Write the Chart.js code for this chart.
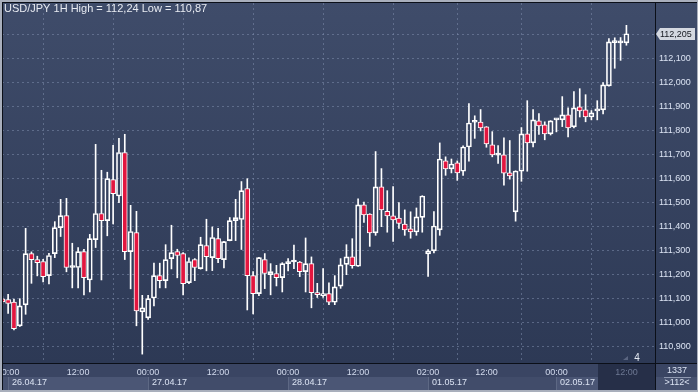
<!DOCTYPE html>
<html>
<head>
<meta charset="utf-8">
<script src="https://cdn.jsdelivr.net/npm/chart.js@4.4.1/dist/chart.umd.min.js"></script>
<style>
  html, body { margin: 0; padding: 0; background: #2d3956; }
  #wrap { width: 698px; height: 392px; }
</style>
</head>
<body>
<div id="wrap"><canvas id="chart" width="698" height="392"></canvas></div>
<script>
// USD/JPY 1H candles, 25.04 23:00 .. 02.05 12:00 (index = bar number)
const openP = [
  111.100, 111.097, 111.087, 110.988, 111.075, 111.289, 111.264, 111.256, 111.197, 111.289,
  111.397, 111.447, 111.231, 111.231, 111.297, 111.179, 111.347, 111.456, 111.426, 111.597,
  111.529, 111.710, 111.297, 111.376, 111.046, 111.021, 111.104, 111.197, 111.176, 111.268,
  111.297, 111.289, 111.168, 111.264, 111.226, 111.322, 111.272, 111.351, 111.264, 111.343,
  111.426, 111.431, 111.560, 111.197, 111.122, 111.264, 111.201, 111.206, 111.189, 111.247,
  111.254, 111.254, 111.214, 111.247, 111.126, 111.114, 111.122, 111.086, 111.153, 111.244,
  111.275, 111.236, 111.492, 111.454, 111.375, 111.567, 111.465, 111.446, 111.437, 111.412,
  111.392, 111.379, 111.440, 111.287, 111.300, 111.388, 111.675, 111.642, 111.667, 111.632,
  111.733, 111.836, 111.837, 111.817, 111.742, 111.699, 111.700, 111.625, 111.463, 111.632,
  111.788, 111.750, 111.842, 111.825, 111.788, 111.846, 111.846, 111.867, 111.817, 111.900,
  111.888, 111.858, 111.883, 111.888, 111.988, 112.168, 112.167, 112.167
];
const highP = [
  111.110, 111.119, 111.099, 111.101, 111.394, 111.296, 111.278, 111.265, 111.290, 111.422,
  111.515, 111.519, 111.332, 111.314, 111.307, 111.369, 111.744, 111.636, 111.628, 111.740,
  111.769, 111.786, 111.490, 111.465, 111.115, 111.115, 111.249, 111.249, 111.326, 111.407,
  111.307, 111.293, 111.271, 111.268, 111.357, 111.432, 111.400, 111.394, 111.340, 111.439,
  111.515, 111.589, 111.601, 111.214, 111.273, 111.289, 111.247, 111.240, 111.251, 111.268,
  111.324, 111.256, 111.354, 111.275, 111.165, 111.226, 111.167, 111.197, 111.268, 111.326,
  111.351, 111.517, 111.504, 111.455, 111.714, 111.643, 111.551, 111.568, 111.501, 111.471,
  111.463, 111.479, 111.530, 111.306, 111.464, 111.750, 111.692, 111.683, 111.675, 111.738,
  111.914, 111.863, 111.889, 111.818, 111.797, 111.739, 111.771, 111.760, 111.634, 111.814,
  111.926, 111.889, 111.872, 111.838, 111.843, 111.851, 111.943, 111.896, 111.964, 111.976,
  111.951, 111.885, 111.926, 112.001, 112.185, 112.188, 112.189, 112.240
];
const lowP = [
  111.080, 111.040, 110.971, 110.985, 111.036, 111.165, 111.196, 111.171, 111.162, 111.272,
  111.360, 111.213, 111.146, 111.146, 111.117, 111.129, 111.314, 111.179, 111.363, 111.413,
  111.501, 111.264, 111.142, 110.988, 110.870, 111.015, 111.071, 111.146, 111.146, 111.225,
  111.188, 111.117, 111.164, 111.176, 111.224, 111.217, 111.218, 111.251, 111.229, 111.342,
  111.343, 111.306, 111.054, 111.038, 111.114, 111.143, 111.117, 111.154, 111.129, 111.217,
  111.226, 111.193, 111.129, 111.063, 111.106, 111.106, 111.076, 111.076, 111.144, 111.201,
  111.228, 111.235, 111.419, 111.319, 111.365, 111.401, 111.378, 111.340, 111.394, 111.365,
  111.353, 111.365, 111.378, 111.194, 111.292, 111.365, 111.615, 111.625, 111.594, 111.615,
  111.674, 111.769, 111.800, 111.732, 111.692, 111.665, 111.574, 111.599, 111.424, 111.590,
  111.632, 111.733, 111.785, 111.763, 111.783, 111.796, 111.818, 111.775, 111.813, 111.858,
  111.838, 111.846, 111.846, 111.871, 111.986, 112.061, 112.094, 112.157
];
const closeP = [
  111.088, 111.081, 110.976, 111.071, 111.289, 111.264, 111.251, 111.193, 111.281, 111.397,
  111.447, 111.231, 111.232, 111.297, 111.189, 111.351, 111.456, 111.426, 111.601, 111.539,
  111.710, 111.297, 111.381, 111.050, 111.063, 111.101, 111.197, 111.176, 111.264, 111.293,
  111.281, 111.164, 111.256, 111.231, 111.326, 111.276, 111.356, 111.268, 111.339, 111.426,
  111.439, 111.551, 111.197, 111.122, 111.272, 111.206, 111.214, 111.189, 111.247, 111.248,
  111.255, 111.214, 111.247, 111.126, 111.118, 111.122, 111.086, 111.150, 111.242, 111.275,
  111.239, 111.492, 111.450, 111.375, 111.567, 111.471, 111.446, 111.429, 111.415, 111.388,
  111.379, 111.442, 111.529, 111.300, 111.404, 111.683, 111.642, 111.662, 111.625, 111.733,
  111.833, 111.837, 111.813, 111.746, 111.700, 111.700, 111.624, 111.613, 111.633, 111.788,
  111.750, 111.846, 111.821, 111.788, 111.842, 111.847, 111.867, 111.813, 111.896, 111.883,
  111.858, 111.875, 111.892, 111.992, 112.171, 112.169, 112.168, 112.205
];

const xTickIdx  = [1, 13, 25, 37, 49, 61, 73, 83, 95, 107];
const xTickText = ['00:00', '12:00', '00:00', '12:00', '00:00', '12:00', '02:00', '12:00', '00:00', '12:00'];
const dateIdx   = [1, 25, 49, 73, 95];
const dateText  = ['26.04.17', '27.04.17', '28.04.17', '01.05.17', '02.05.17'];
const yTicks    = [110.9, 111.0, 111.1, 111.2, 111.3, 111.4, 111.5, 111.6, 111.7, 111.8, 111.9, 112.0, 112.1, 112.2];

const RED = '#e3163f';
const WHITE = '#ffffff';
const FONT = '"Liberation Sans", Arial, sans-serif';
const AXIS_PX = 9;

const idx = openP.map((_, i) => i);
const bodyData = idx.map(i => ({ x: i, y: [openP[i], closeP[i]] }));
const upperWick = idx.map(i => ({ x: i, y: [Math.max(openP[i], closeP[i]), highP[i]] }));
const lowerWick = idx.map(i => ({ x: i, y: [lowP[i], Math.min(openP[i], closeP[i])] }));
const bodyFill = idx.map(i => closeP[i] < openP[i] ? RED : 'rgba(0,0,0,0)');

const fmt = v => v.toFixed(3).replace('.', ',');

const panelPlugin = {
  id: 'panel',
  beforeDraw(chart) {
    const c = chart.ctx;
    const W = chart.width, H = chart.height;
    const a = chart.chartArea;
    c.save();
    const g = c.createLinearGradient(0, 0, 0, a.bottom);
    g.addColorStop(0, '#3f4c6a');
    g.addColorStop(1, '#2d3955');
    c.fillStyle = g;
    c.fillRect(0, 0, W, a.bottom);
    // time axis band
    c.fillStyle = '#3a4563';
    c.fillRect(0, a.bottom, W, H - a.bottom);
    // date boxes
    const xs = chart.scales.x;
    c.fillStyle = '#46516f';
    c.fillRect(0, a.bottom + 14, W, 13);
    for (let k = 0; k < dateIdx.length; k++) {
      const x0 = Math.round(xs.getPixelForValue(dateIdx[k]));
      const x1 = k + 1 < dateIdx.length ? Math.round(xs.getPixelForValue(dateIdx[k + 1])) : 598;
      c.fillStyle = k % 2 === 0 ? '#4b5675' : '#414c6a';
      c.fillRect(x0, a.bottom + 14, x1 - x0, 13);
      c.fillStyle = '#5d6884';
      c.fillRect(x0, a.bottom + 14, 1, 13);
    }
    // current-time box
    c.fillStyle = '#262f48';
    c.fillRect(598, a.bottom + 1, a.right - 598, H - a.bottom - 3);
    c.restore();
  },
  afterDraw(chart) {
    const c = chart.ctx;
    const W = chart.width, H = chart.height;
    const a = chart.chartArea;
    const xs = chart.scales.x, ys = chart.scales.y;
    c.save();
    // frame
    c.fillStyle = '#a9afbc';
    c.fillRect(0, 0, W, 2);
    c.fillRect(0, 0, 2, H);
    c.fillRect(0, H - 2, W, 2);
    c.fillRect(W - 1, 0, 1, H);
    c.fillStyle = '#0b0f18';
    c.fillRect(2, 2, W - 3, 1);
    c.fillRect(2, 2, 1, H - 4);
    c.fillRect(Math.round(a.right), 2, 1, H - 4);
    c.fillRect(2, Math.round(a.bottom), W - 3, 1);

    // title
    c.font = '11px ' + FONT;
    c.fillStyle = '#e8ebf2';
    c.textBaseline = 'middle';
    c.textAlign = 'left';
    c.fillText('USD/JPY 1H High = ' + fmt(Math.max(...highP)).slice(0, 6) +
               ' Low = ' + fmt(Math.min(...lowP)).slice(0, 6), 4, 9);

    // dates
    c.font = AXIS_PX + 'px ' + FONT;
    c.fillStyle = '#dbe3f3';
    dateIdx.forEach((d, k) => {
      c.fillText(dateText[k], Math.round(xs.getPixelForValue(d)) + 4, a.bottom + 20);
    });

    // corner box
    c.textAlign = 'center';
    c.fillStyle = '#dbe3f3';
    c.fillText('1337', 677, a.bottom + 8);
    c.fillText('>112<', 677, a.bottom + 20);
    c.fillStyle = '#8e98b0';
    c.fillRect(664, a.bottom + 14, 27, 1);

    // bar count marker
    c.font = '10px ' + FONT;
    c.fillStyle = '#e4e9f2';
    c.fillText('4', 637, a.bottom - 5);
    c.fillStyle = '#5a6580';
    c.beginPath();
    c.moveTo(623, a.bottom - 3); c.lineTo(628, a.bottom - 3); c.lineTo(628, a.bottom - 7);
    c.closePath(); c.fill();

    // last price marker
    const last = closeP[closeP.length - 1];
    const py = Math.round(ys.getPixelForValue(last));
    const bx = Math.round(a.right) + 1;
    c.fillStyle = '#d4d8e0';
    c.beginPath();
    c.moveTo(bx, py);
    c.lineTo(bx + 4, py - 6);
    c.lineTo(W - 3, py - 6);
    c.lineTo(W - 3, py + 6);
    c.lineTo(bx + 4, py + 6);
    c.closePath();
    c.fill();
    c.font = AXIS_PX + 'px ' + FONT;
    c.fillStyle = '#15181f';
    c.textAlign = 'left';
    c.fillText(fmt(last), bx + 4, py + 1);
    c.restore();
  }
};

const gridStyle = { color: 'rgba(125,140,172,0.55)', lineWidth: 1, drawTicks: false };

new Chart(document.getElementById('chart'), {
  type: 'bar',
  data: {
    datasets: [
      { data: upperWick, backgroundColor: WHITE, borderWidth: 0, barThickness: 1, grouped: false, order: 2 },
      { data: lowerWick, backgroundColor: WHITE, borderWidth: 0, barThickness: 1, grouped: false, order: 2 },
      { data: bodyData, backgroundColor: bodyFill, borderColor: WHITE, borderWidth: 1,
        borderSkipped: false, barThickness: 5, minBarLength: 2, grouped: false, order: 1 }
    ]
  },
  options: {
    responsive: false,
    animation: false,
    layout: { padding: { left: 2, top: 3, right: 0, bottom: 0 } },
    plugins: { legend: { display: false }, tooltip: { enabled: false } },
    scales: {
      x: {
        type: 'linear',
        min: -0.05,
        max: 111.9,
        offset: false,
        grid: gridStyle,
        border: { display: false, dash: [2, 3] },
        afterBuildTicks: axis => { axis.ticks = xTickIdx.map(v => ({ value: v })); },
        afterFit: axis => {
          axis.height = 29;
          axis.paddingLeft = 0; axis.paddingRight = 0;
        },
        ticks: {
          autoSkip: false, maxRotation: 0, minRotation: 0, padding: 4,
          font: { family: FONT, size: AXIS_PX },
          color: ctx => ctx.index === xTickIdx.length - 1 ? '#6d7893' : '#d3dbee',
          callback: (v, i) => xTickText[i]
        }
      },
      y: {
        position: 'right',
        min: 110.833,
        max: 112.333,
        grid: gridStyle,
        border: { display: false, dash: [2, 3] },
        afterBuildTicks: axis => { axis.ticks = yTicks.map(v => ({ value: v })); },
        afterFit: axis => {
          axis.width = 43;
          axis.paddingTop = 0; axis.paddingBottom = 0;
        },
        ticks: {
          padding: 4,
          font: { family: FONT, size: AXIS_PX },
          color: '#dbe3f3',
          callback: v => fmt(v)
        }
      }
    }
  },
  plugins: [panelPlugin]
});
</script>
</body>
</html>
